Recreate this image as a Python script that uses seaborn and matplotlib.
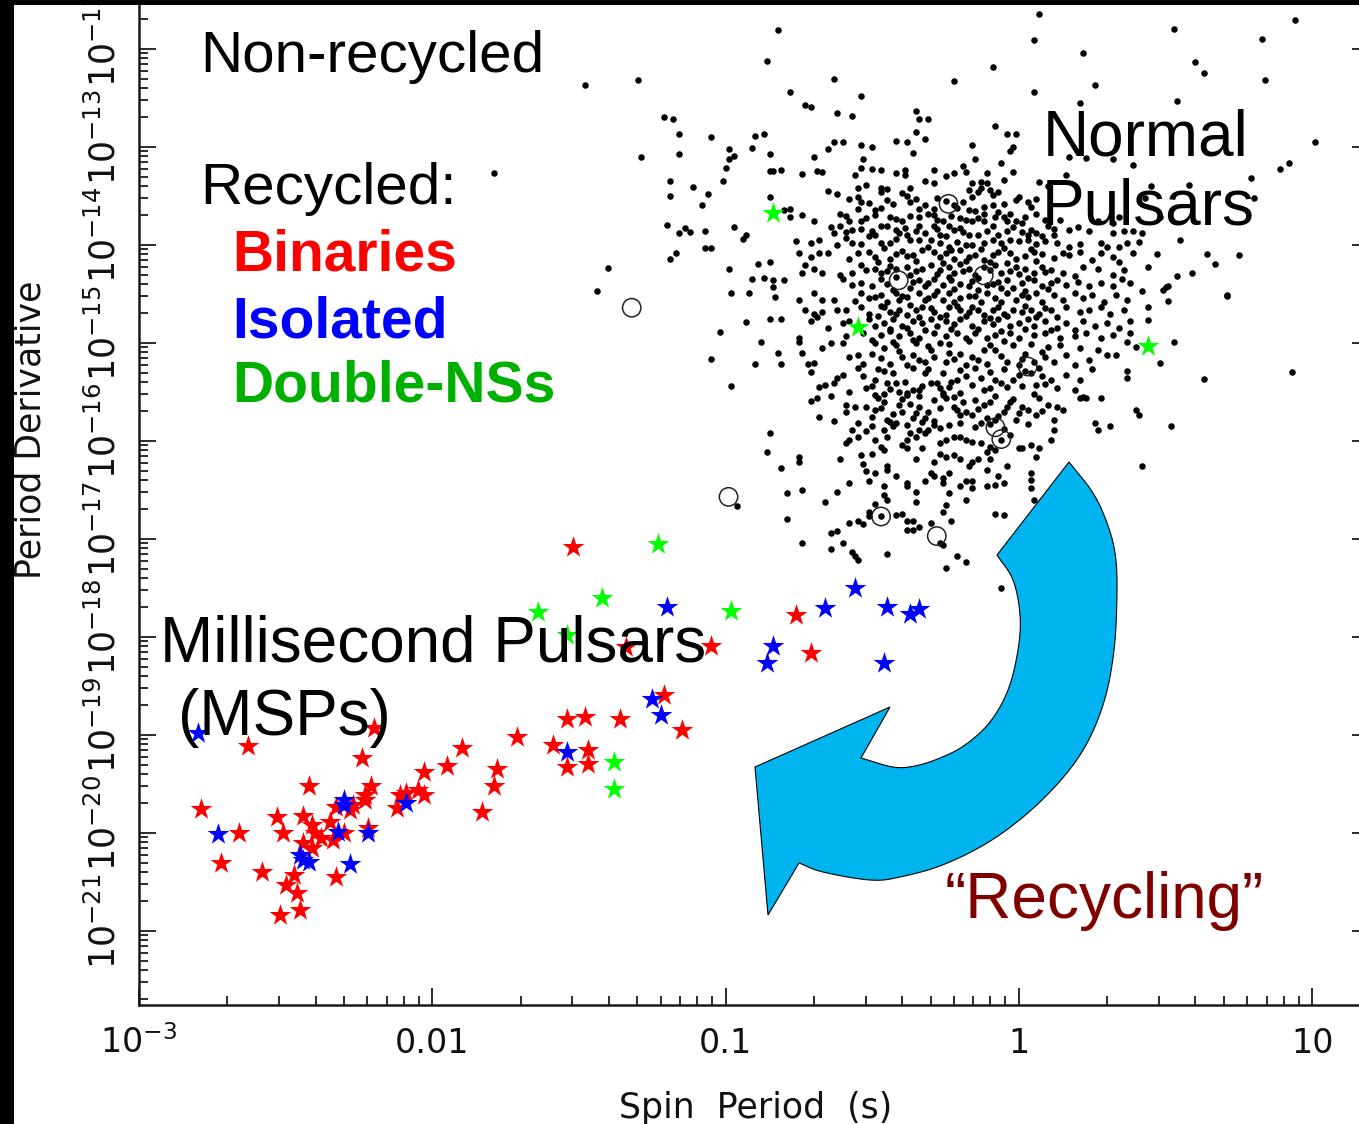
"""P-Pdot diagram: normal pulsars, recycled millisecond pulsars and the recycling arrow."""

import numpy as np
import matplotlib
matplotlib.use("Agg")
import matplotlib.pyplot as plt
import matplotlib.transforms as mtransforms
from matplotlib.patches import Polygon, Rectangle
from matplotlib.ticker import LogLocator, NullFormatter
import seaborn as sns

# values are (log10 spin period [s], log10 period derivative)
normal_psr = [
    (-0.08,-12.79),(-0.35,-12.85),(-0.32,-12.92),(-0.04,-12.87),(-0.01,-12.87),(-0.63,-12.95),(-0.60,-12.95),
    (-0.42,-12.94),(-0.38,-12.95),(-0.16,-12.98),(-0.02,-13.00),(-0.03,-13.04),(-0.54,-12.98),(-0.50,-13.00),
    (-0.65,-13.02),(-0.70,-13.10),(-0.53,-13.12),(-0.36,-13.06),(-0.15,-13.12),(-0.06,-13.16),(-0.19,-13.19),
    (0.17,-13.10),(0.32,-13.12),(0.23,-13.11),(-0.81,-13.23),(-0.69,-13.24),(-0.67,-13.26),(-0.54,-13.21),
    (-0.50,-13.22),(-0.47,-13.23),(-0.42,-13.27),(-0.39,-13.23),(-0.39,-13.29),(-0.29,-13.23),(-0.22,-13.27),
    (-0.25,-13.30),(-0.18,-13.25),(-0.11,-13.27),(-0.02,-13.26),(-0.74,-13.28),(-0.56,-13.29),(-0.52,-13.39),
    (0.16,-13.29),(0.39,-13.18),(-0.32,-13.35),(-0.29,-13.37),(-0.16,-13.37),(-0.13,-13.36),(-0.11,-13.37),
    (-0.05,-13.34),(0.07,-13.36),(0.10,-13.40),(-0.65,-13.45),(-0.62,-13.48),(-0.55,-13.42),(-0.47,-13.42),
    (-0.47,-13.46),(-0.45,-13.43),(-0.40,-13.47),(-0.37,-13.42),(-0.17,-13.44),(-0.13,-13.42),(-0.10,-13.44),
    (-0.09,-13.49),(-0.14,-13.46),(-0.07,-13.46),(0.00,-13.51),(0.03,-13.56),(-0.55,-13.51),(-0.54,-13.56),
    (-0.55,-13.63),(-0.51,-13.57),(-0.45,-13.54),(-0.38,-13.50),(-0.37,-13.56),(-0.28,-13.52),(-0.19,-13.56),
    (-0.16,-13.51),(-0.17,-13.64),(-0.15,-13.65),(-0.12,-13.61),(-0.09,-13.59),(-0.01,-13.54),(0.04,-13.61),
    (-0.78,-13.63),(-0.80,-13.64),(-0.49,-13.64),(-0.47,-13.62),(-0.34,-13.63),(-0.29,-13.63),(-0.32,-13.59),
    (-0.22,-13.59),(-0.78,-13.71),(-0.74,-13.69),(-0.70,-13.76),(-0.61,-13.68),(-0.58,-13.76),(-0.54,-13.76),
    (-0.49,-13.69),(-0.44,-13.71),(-0.42,-13.73),(-0.37,-13.70),(-0.34,-13.71),(-0.29,-13.69),(-0.28,-13.74),
    (-0.26,-13.76),(-0.20,-13.72),(-0.18,-13.74),(-0.16,-13.76),(-0.12,-13.68),(-0.12,-13.75),(-0.08,-13.71),
    (-0.07,-13.66),(-0.04,-13.76),(-0.03,-13.68),(-0.01,-13.76),(0.01,-13.78),(0.02,-13.71),(0.09,-13.74),
    (0.10,-13.81),(0.14,-13.74),(0.20,-13.82),(0.24,-13.86),(0.27,-13.76),(0.32,-13.78),(0.34,-13.71),
    (-0.64,-13.82),(-0.61,-13.81),(-0.63,-13.88),(-0.57,-13.85),(-0.54,-13.84),(-0.47,-13.81),(-0.45,-13.81),
    (-0.42,-13.85),(-0.39,-13.83),(-0.38,-13.90),(-0.34,-13.81),(-0.32,-13.88),(-0.29,-13.81),(-0.28,-13.84),
    (-0.27,-13.90),(-0.24,-13.81),(-0.25,-13.91),(-0.22,-13.85),(-0.20,-13.83),(-0.17,-13.90),(-0.14,-13.90),
    (-0.11,-13.86),(-0.09,-13.81),(-0.04,-13.86),(-0.02,-13.82),(0.01,-13.87),(0.04,-13.85),(0.06,-13.88),
    (0.08,-13.91),(0.12,-13.90),(0.17,-13.85),(0.32,-13.88),(0.36,-13.86),(0.39,-13.86),(-0.76,-13.96),
    (-0.71,-13.98),(-0.68,-13.95),(-0.62,-14.00),(-0.59,-13.93),(-0.57,-13.98),(-0.54,-13.99),(-0.51,-13.91),
    (-0.49,-13.90),(-0.47,-13.98),(-0.44,-13.98),(-0.42,-13.94),(-0.37,-13.95),(-0.34,-13.95),(-0.30,-13.95),
    (-0.27,-13.98),(-0.24,-14.02),(-0.21,-13.97),(-0.18,-14.00),(-0.16,-14.00),(-0.12,-13.98),(-0.09,-13.95),
    (-0.06,-13.98),(-0.03,-13.95),(0.00,-13.96),(0.03,-13.95),(0.06,-13.99),(0.09,-13.96),(0.13,-13.98),
    (0.17,-14.02),(0.21,-13.99),(0.28,-13.98),(0.30,-14.02),(0.34,-14.02),(0.37,-13.98),(0.41,-13.97),
    (-0.75,-14.08),(-0.71,-14.12),(-0.68,-14.08),(-0.65,-14.08),(-0.58,-14.14),(-0.55,-14.08),(-0.51,-14.07),
    (-0.49,-14.12),(-0.44,-14.14),(-0.42,-14.09),(-0.38,-14.11),(-0.36,-14.10),(-0.33,-14.05),(-0.29,-14.07),
    (-0.27,-14.12),(-0.25,-14.08),(-0.22,-14.14),(-0.20,-14.05),(-0.17,-14.12),(-0.15,-14.10),(-0.12,-14.15),
    (-0.09,-14.10),(-0.07,-14.07),(-0.03,-14.08),(-0.01,-14.14),(0.02,-14.11),(0.05,-14.07),(0.08,-14.09),
    (0.12,-14.13),(0.15,-14.08),(0.17,-14.10),(0.21,-14.07),(0.25,-14.15),(0.28,-14.08),(0.32,-14.12),
    (0.34,-14.17),(0.39,-14.08),(-0.73,-14.20),(-0.70,-14.24),(-0.74,-14.29),(-0.67,-14.29),(-0.61,-14.31),
    (-0.57,-14.29),(-0.54,-14.20),(-0.52,-14.25),(-0.49,-14.24),(-0.47,-14.29),(-0.44,-14.21),(-0.42,-14.24),
    (-0.38,-14.22),(-0.37,-14.31),(-0.33,-14.24),(-0.30,-14.20),(-0.27,-14.25),(-0.24,-14.22),(-0.22,-14.29),
    (-0.20,-14.19),(-0.17,-14.24),(-0.15,-14.31),(-0.12,-14.22),(-0.08,-14.20),(-0.06,-14.29),(-0.03,-14.27),
    (-0.01,-14.22),(0.02,-14.24),(0.05,-14.29),(0.08,-14.22),(0.11,-14.25),(0.15,-14.29),(0.19,-14.32),
    (0.22,-14.22),(0.27,-14.24),(0.32,-14.31),(0.36,-14.25),(-0.80,-14.36),(-0.60,-14.35),(-0.57,-14.41),
    (-0.54,-14.39),(-0.50,-14.42),(-0.47,-14.35),(-0.45,-14.40),(-0.36,-14.38),(-0.34,-14.36),(-0.32,-14.42),
    (-0.29,-14.35),(-0.26,-14.41),(-0.23,-14.36),(-0.20,-14.40),(-0.17,-14.42),(-0.16,-14.37),(-0.11,-14.41),
    (-0.07,-14.38),(-0.04,-14.36),(-0.02,-14.44),(0.01,-14.39),(0.05,-14.36),(0.08,-14.42),(0.11,-14.39),
    (0.13,-14.36),(0.16,-14.41),(0.20,-14.38),(0.24,-14.42),(0.28,-14.39),(0.32,-14.42),(0.35,-14.35),
    (0.38,-14.39),(-0.75,-14.56),(-0.70,-14.49),(-0.67,-14.56),(-0.63,-14.56),(-0.54,-14.49),(-0.56,-14.57),
    (-0.51,-14.54),(-0.47,-14.51),(-0.45,-14.58),(-0.42,-14.49),(-0.41,-14.56),(-0.38,-14.53),(-0.34,-14.49),
    (-0.32,-14.56),(-0.29,-14.51),(-0.26,-14.56),(-0.24,-14.49),(-0.20,-14.54),(-0.17,-14.52),(-0.13,-14.58),
    (-0.11,-14.49),(-0.08,-14.54),(-0.04,-14.49),(-0.01,-14.56),(0.03,-14.53),(0.06,-14.49),(0.08,-14.58),
    (0.12,-14.51),(0.15,-14.56),(0.19,-14.49),(0.22,-14.54),(0.25,-14.51),(0.29,-14.58),(0.33,-14.51),
    (0.37,-14.56),(-0.73,-14.66),(-0.70,-14.70),(-0.67,-14.68),(-0.62,-14.66),(-0.59,-14.66),(-0.54,-14.63),
    (-0.51,-14.70),(-0.46,-14.63),(-0.44,-14.68),(-0.41,-14.66),(-0.38,-14.71),(-0.35,-14.66),(-0.33,-14.63),
    (-0.29,-14.68),(-0.27,-14.73),(-0.24,-14.63),(-0.20,-14.66),(-0.17,-14.68),(-0.14,-14.66),(-0.12,-14.71),
    (-0.09,-14.66),(-0.05,-14.70),(-0.02,-14.66),(0.01,-14.68),(0.04,-14.66),(0.07,-14.70),(0.11,-14.66),
    (0.13,-14.73),(0.16,-14.63),(0.21,-14.68),(0.24,-14.66),(0.28,-14.63),(0.31,-14.70),(0.36,-14.66),
    (-0.81,-14.76),(-0.71,-14.78),(-0.69,-14.73),(-0.65,-14.85),(-0.60,-14.80),(-0.58,-14.78),(-0.51,-14.76),
    (-0.49,-14.83),(-0.46,-14.80),(-0.43,-14.76),(-0.40,-14.83),(-0.36,-14.78),(-0.33,-14.80),(-0.30,-14.75),
    (-0.28,-14.83),(-0.25,-14.78),(-0.22,-14.81),(-0.20,-14.76),(-0.16,-14.83),(-0.12,-14.78),(-0.09,-14.81),
    (-0.07,-14.76),(-0.03,-14.83),(0.00,-14.80),(0.03,-14.76),(0.05,-14.83),(0.09,-14.78),(0.13,-14.85),
    (0.16,-14.80),(0.19,-14.87),(0.22,-14.78),(0.26,-14.83),(0.30,-14.80),(0.34,-14.85),(0.38,-14.78),
    (-0.75,-14.95),(-0.59,-14.93),(-0.53,-14.90),(-0.47,-14.92),(-0.44,-14.88),(-0.41,-14.93),(-0.37,-14.90),
    (-0.34,-14.95),(-0.29,-14.90),(-0.25,-14.93),(-0.21,-14.90),(-0.18,-14.95),(-0.15,-14.90),(-0.11,-14.95),
    (-0.08,-14.92),(-0.03,-14.90),(0.00,-14.95),(0.05,-14.92),(0.09,-14.90),(0.14,-14.95),(0.19,-14.93),
    (0.23,-14.90),(0.28,-14.95),(0.32,-14.92),(0.38,-14.90),
    (-0.88,-14.99),(-0.75,-14.99),(-0.82,-15.10),(-0.90,-15.21),(-0.81,-15.21),(-0.74,-15.10),(-0.72,-15.21),
    (-0.70,-15.20),(-0.67,-15.05),(-0.64,-15.00),(-0.60,-15.00),(-0.58,-15.14),(-0.55,-15.12),(-0.53,-15.21),
    (-0.50,-15.11),(-0.49,-15.00),(-0.46,-15.05),(-0.44,-15.21),(-0.42,-15.02),(-0.40,-15.14),(-0.38,-15.22),
    (-0.35,-15.00),(-0.34,-15.17),(-0.32,-15.19),(-0.29,-15.14),(-0.27,-15.00),(-0.25,-15.19),(-0.22,-15.16),
    (-0.20,-15.11),(-0.18,-15.22),(-0.16,-15.14),(-0.12,-15.07),(-0.11,-15.21),(-0.08,-15.07),(-0.04,-15.19),
    (-0.02,-15.02),(0.00,-15.22),(0.02,-15.11),(0.05,-15.19),(0.08,-15.09),(0.12,-15.19),(0.14,-15.02),
    (0.16,-15.12),(0.19,-15.22),(0.21,-15.05),(0.24,-15.17),(0.27,-15.07),(0.30,-15.12),(0.33,-15.12),
    (0.37,-14.99),(0.40,-15.04),(-0.71,-15.30),(-0.68,-15.45),(-0.66,-15.43),(-0.63,-15.41),(-0.62,-15.36),
    (-0.60,-15.33),(-0.58,-15.50),(-0.55,-15.25),(-0.53,-15.34),(-0.52,-15.46),(-0.49,-15.38),(-0.49,-15.53),
    (-0.46,-15.29),(-0.45,-15.41),(-0.42,-15.41),(-0.41,-15.50),(-0.38,-15.51),(-0.36,-15.48),(-0.34,-15.48),
    (-0.32,-15.31),(-0.30,-15.41),(-0.28,-15.41),(-0.26,-15.51),(-0.24,-15.45),(-0.21,-15.38),(-0.20,-15.51),
    (-0.18,-15.34),(-0.13,-15.36),(-0.12,-15.48),(-0.08,-15.38),(-0.04,-15.45),(-0.02,-15.38),(0.02,-15.29),
    (0.04,-15.31),(0.06,-15.43),(0.08,-15.34),(0.11,-15.38),(0.13,-15.46),(0.16,-15.33),(0.19,-15.48),
    (0.21,-15.38),(0.22,-15.55),(0.25,-15.27),(0.28,-15.56),(0.37,-15.29),(0.37,-15.36),(-0.98,-15.44),
    (-0.71,-15.59),(-0.69,-15.56),(-0.68,-15.76),(-0.64,-15.54),(-0.63,-15.80),(-0.59,-15.63),(-0.59,-15.70),
    (-0.56,-15.65),(-0.55,-15.82),(-0.52,-15.65),(-0.50,-15.75),(-0.49,-15.68),(-0.48,-15.56),(-0.46,-15.60),
    (-0.45,-15.79),(-0.43,-15.72),(-0.42,-15.82),(-0.40,-15.70),(-0.38,-15.53),(-0.37,-15.62),(-0.36,-15.77),
    (-0.34,-15.65),(-0.32,-15.77),(-0.31,-15.70),(-0.29,-15.80),(-0.26,-15.53),(-0.25,-15.56),(-0.24,-15.84),
    (-0.22,-15.65),(-0.21,-15.68),(-0.19,-15.60),(-0.18,-15.70),(-0.16,-15.73),(-0.13,-15.82),(-0.12,-15.63),
    (-0.11,-15.77),(-0.10,-15.60),(-0.08,-15.79),(-0.05,-15.70),(-0.04,-15.65),(-0.03,-15.60),(-0.01,-15.79),
    (0.01,-15.65),(0.03,-15.68),(0.06,-15.73),(0.07,-15.56),(0.10,-15.63),(0.12,-15.79),(0.13,-15.65),
    (0.15,-15.68),(0.21,-15.56),(0.23,-15.56),(0.26,-15.82),(0.27,-15.89),(0.31,-15.85),(0.40,-15.68),
    (0.41,-15.73),(-0.85,-15.92),(-0.86,-16.11),(-0.59,-16.02),(-0.58,-15.99),(-0.57,-15.89),(-0.55,-15.96),
    (-0.52,-15.90),(-0.50,-15.85),(-0.49,-15.99),(-0.46,-15.89),(-0.45,-15.96),(-0.43,-15.85),(-0.40,-16.04),
    (-0.38,-15.99),(-0.37,-15.92),(-0.35,-15.96),(-0.34,-15.89),(-0.32,-15.92),(-0.31,-15.89),(-0.29,-15.84),
    (-0.27,-16.02),(-0.25,-15.99),(-0.22,-15.96),(-0.20,-15.96),(-0.18,-15.99),(-0.16,-16.01),(-0.13,-16.02),
    (-0.11,-16.11),(-0.10,-16.06),(-0.08,-16.09),(-0.06,-15.99),(-0.03,-15.94),(0.00,-16.07),(0.04,-16.04),
    (0.07,-16.07),(0.11,-15.99),(0.12,-15.89),(-0.54,-16.14),(-0.53,-16.23),(-0.50,-16.13),(-0.47,-16.06),
    (-0.46,-16.09),(-0.45,-16.26),(-0.42,-16.36),(-0.38,-16.07),(-0.35,-16.18),(-0.33,-16.07),(-0.29,-16.21),
    (-0.27,-16.13),(-0.25,-16.16),(-0.22,-16.14),(-0.20,-16.18),(-0.17,-16.26),(-0.16,-16.21),(-0.14,-16.18),
    (-0.11,-16.30),(-0.10,-16.18),(-0.04,-16.26),(0.01,-16.07),(-0.75,-16.16),(-0.75,-16.21),(-0.81,-16.28),
    (-0.61,-16.18),(-0.58,-16.43),(-0.52,-16.31),(-0.49,-16.33),(-0.45,-16.30),(-0.51,-16.41),(-0.46,-16.46),
    (-0.46,-16.55),(-0.45,-16.60),(-0.49,-16.64),(-0.38,-16.43),(-0.38,-16.46),(-0.35,-16.52),(-0.32,-16.41),
    (-0.30,-16.33),(-0.29,-16.36),(-0.26,-16.38),(-0.26,-16.43),(-0.24,-16.33),(-0.24,-16.53),(-0.20,-16.46),
    (-0.18,-16.41),(-0.18,-16.60),(-0.16,-16.41),(-0.16,-16.48),(-0.11,-16.46),(-0.08,-16.45),(-0.07,-16.36),
    (-0.05,-16.43),(0.04,-16.33),(0.04,-16.40),(0.04,-16.48),(0.06,-16.16),(0.05,-16.60),(-0.79,-16.53),
    (-0.74,-16.50),(-0.66,-16.62),(-0.62,-16.52),(-0.35,-16.62),(-0.25,-16.65),(-0.26,-16.72),(-0.51,-16.72),
    (-0.51,-16.77),(-0.47,-16.77),(-0.42,-16.75),(-0.40,-16.74),(-0.38,-16.82),(-0.36,-16.82),(-0.38,-16.91),
    (-0.36,-16.91),(-0.34,-16.88),(-0.30,-16.84),(-0.23,-16.82),(-0.08,-16.74),(-0.05,-16.76),(-0.58,-16.84),
    (-0.55,-16.82),(-0.53,-16.85),(-0.62,-16.92),(-0.64,-16.94),(-0.60,-17.04),(-0.74,-17.04),(-0.79,-16.80),
    (-0.64,-17.10),(-0.57,-17.13),(-0.56,-17.17),(-0.55,-17.21),(-0.45,-17.15),(-0.27,-17.04),(-0.26,-17.06),
    (-0.21,-17.17),(-0.18,-17.23),(-0.25,-17.30),(-0.96,-16.66),(-0.06,-17.50),
    (-0.82,-11.81),(-0.86,-12.12),(-1.48,-12.37),(-1.30,-12.32),(-0.63,-12.31),(-0.78,-12.44),(-0.54,-12.48),
    (-0.22,-12.33),(-0.73,-12.57),(-0.71,-12.59),(-0.62,-12.65),(-0.57,-12.68),(-0.35,-12.63),(-0.34,-12.71),
    (-0.31,-12.71),(-1.21,-12.69),(-1.18,-12.71),(-1.16,-12.87),(-1.05,-12.90),(-0.90,-12.89),(-0.87,-12.87),
    (-1.29,-13.10),(-1.16,-13.07),(-0.99,-13.02),(-0.97,-13.09),(-0.99,-13.12),(-0.91,-13.01),(-0.85,-13.07),
    (-1.00,-13.21),(-0.85,-13.24),(-0.84,-13.24),(-1.19,-13.35),(-1.01,-13.35),(-1.11,-13.41),(-1.19,-13.50),
    (-1.06,-13.48),(-1.08,-13.59),(-0.85,-13.51),(-1.20,-13.80),(-1.16,-13.88),(-1.14,-13.83),(-1.12,-13.87),
    (-1.07,-13.86),(-0.97,-13.82),(-0.94,-13.94),(-0.93,-13.90),(-1.19,-14.14),(-1.17,-14.08),(-1.07,-14.03),
    (-1.05,-14.03),(-1.40,-14.23),(-0.99,-14.24),(-0.89,-14.19),(-0.85,-14.17),(-1.44,-14.47),(-0.98,-14.49),
    (-0.92,-14.49),(-0.91,-14.35),(-0.87,-14.34),(-0.84,-14.36),(-0.84,-14.43),(-0.83,-14.53),(-1.05,-15.16),
    (-1.02,-14.89),(-0.93,-14.79),(-0.85,-14.76),(-1.79,-13.27),
    (0.07,-11.64),(0.53,-11.80),(0.94,-11.70),(0.05,-11.91),(0.22,-12.04),(0.83,-11.90),(-0.09,-12.18),
    (0.60,-12.13),(0.63,-12.24),(0.84,-12.32),(0.26,-12.37),(0.05,-12.44),(0.54,-12.53),(0.21,-12.55),
    (1.01,-12.95),(0.89,-13.22),(0.92,-13.16),(0.79,-13.32),(0.58,-13.39),(0.43,-13.52),(0.44,-14.22),
    (0.47,-14.09),(0.42,-13.88),(0.50,-14.43),(0.54,-14.32),(0.59,-14.29),(0.55,-13.95),(0.64,-14.09),
    (0.67,-14.19),(0.75,-14.10),(0.71,-14.51),(0.80,-13.52),(0.48,-13.71),(0.45,-13.40),
    (0.42,-14.47),(0.49,-14.46),(0.51,-14.42),(0.51,-14.57),(0.71,-14.52),(0.44,-14.63),(0.44,-14.77),
    (0.53,-14.99),(0.48,-15.20),(0.63,-15.37),(0.93,-15.30),(0.52,-15.85),(0.42,-16.25),
    # crowded core, where single dots merge
    (-0.46,-14.03),(-0.40,-14.06),(-0.31,-14.02),(-0.23,-14.05),(-0.13,-14.04),(-0.05,-14.03),(0.04,-14.04),
    (-0.48,-14.17),(-0.35,-14.16),(-0.26,-14.18),(-0.18,-14.16),(-0.10,-14.17),(-0.04,-14.18),(0.06,-14.16),
    (-0.45,-14.27),(-0.35,-14.27),(-0.28,-14.30),(-0.19,-14.27),(-0.10,-14.26),(0.00,-14.30),(0.09,-14.28),
    (-0.42,-14.33),(-0.31,-14.39),(-0.24,-14.33),(-0.14,-14.34),(-0.09,-14.40),(0.03,-14.34),
    (-0.43,-14.46),(-0.37,-14.44),(-0.28,-14.47),(-0.22,-14.45),(-0.14,-14.46),(-0.06,-14.44),(0.02,-14.47),
    (0.10,-14.45),(-0.49,-14.53),(-0.40,-14.52),(-0.31,-14.54),(-0.22,-14.58),(-0.15,-14.52),(-0.06,-14.58),
    (0.01,-14.51),(-0.47,-14.62),(-0.37,-14.61),(-0.30,-14.64),(-0.21,-14.62),(-0.16,-14.63),(-0.07,-14.63),
    (0.02,-14.62),(0.09,-14.64),(-0.48,-14.72),(-0.42,-14.70),(-0.34,-14.73),(-0.25,-14.71),(-0.18,-14.72),
    (-0.10,-14.74),(-0.04,-14.72),(0.06,-14.73),(-0.44,-14.86),(-0.38,-14.85),(-0.32,-14.87),(-0.23,-14.86),
    (-0.14,-14.86),(-0.06,-14.88),(0.02,-14.86),(0.11,-14.87),(-0.50,-14.97),(-0.43,-14.99),(-0.36,-14.97),
    (-0.31,-15.03),(-0.24,-15.01),(-0.17,-14.98),(-0.10,-15.02),(-0.05,-14.98),(0.04,-15.01),(0.10,-15.04),
    (-0.47,-15.15),(-0.41,-15.08),(-0.36,-15.12),(-0.30,-15.07),(-0.24,-15.10),(-0.14,-15.17),(-0.06,-15.13),
    (0.01,-15.16),(0.09,-15.14),(-0.48,-15.27),(-0.43,-15.31),(-0.36,-15.25),(-0.31,-15.27),(-0.26,-15.31),
    (-0.20,-15.28),(-0.15,-15.26),(-0.10,-15.30),(-0.05,-15.27),(0.00,-15.33),(0.07,-15.26),(-0.50,-15.44),
    (-0.44,-15.47),(-0.39,-15.40),(-0.33,-15.44),(-0.27,-15.46),(-0.23,-15.40),(-0.16,-15.43),(-0.10,-15.46),
    (-0.06,-15.41),(0.01,-15.44),(0.09,-15.42),(-0.46,-15.52),(-0.40,-15.57),(-0.34,-15.54),(-0.29,-15.58),
    (-0.22,-15.55),(-0.15,-15.58),(-0.08,-15.54),(-0.02,-15.57),(0.05,-15.52),(-0.47,-15.66),(-0.41,-15.63),
    (-0.35,-15.71),(-0.27,-15.66),(-0.20,-15.73),(-0.14,-15.67),(-0.07,-15.74),(0.00,-15.71),(0.08,-15.69),
    (-0.44,-15.81),(-0.38,-15.84),(-0.33,-15.81),(-0.27,-15.87),(-0.20,-15.82),(-0.15,-15.86),(-0.10,-15.83),
    (-0.05,-15.88),(0.03,-15.83),(-0.58,-13.53),(-0.43,-13.58),(-0.35,-13.53),(-0.25,-13.55),(-0.21,-13.62),
    (-0.05,-13.58),(0.06,-13.53),(-0.59,-13.70),(-0.52,-13.72),(-0.40,-13.75),(-0.31,-13.68),(-0.23,-13.70),
    (-0.14,-13.72),(-0.05,-13.71),(0.06,-13.68),(-0.59,-13.87),(-0.50,-13.86),(-0.41,-13.88),(-0.35,-13.86),
    (-0.19,-13.87),(-0.07,-13.90),(0.03,-13.90),(0.12,-13.84),
]

circled_psr = [(-1.32,-14.64),(-0.99,-16.57),(-0.47,-16.77),(-0.28,-16.97),(-0.24,-13.58),(-0.41,-14.36),
               (-0.12,-14.31),(0.03,-15.24),(-0.08,-15.86),(-0.06,-15.98)]

binary_msp = [
    (-1.52,-17.08),(-1.34,-18.10),(-1.05,-18.09),(-0.76,-17.78),(-0.71,-18.16),(-1.21,-18.59),(-1.54,-18.84),
    (-1.48,-18.82),(-1.36,-18.84),(-1.15,-18.95),(-1.71,-19.02),(-1.90,-19.13),(-1.59,-19.10),(-1.47,-19.15),
    (-1.54,-19.33),(-1.47,-19.30),(-1.95,-19.32),(-1.78,-19.35),(-1.79,-19.52),(-1.83,-19.79),(-2.63,-19.11),
    (-2.20,-18.93),(-2.24,-19.23),(-2.42,-19.52),(-2.21,-19.52),(-2.23,-19.61),(-2.03,-19.38),(-2.11,-19.61),
    (-2.09,-19.59),(-2.05,-19.56),(-2.03,-19.61),(-2.12,-19.74),(-2.27,-19.71),(-2.28,-19.77),(-2.33,-19.73),
    (-2.79,-19.76),(-2.53,-19.84),(-2.44,-19.83),(-2.66,-20.00),(-2.72,-20.31),(-2.58,-20.40),(-2.51,-20.00),
    (-2.41,-19.92),(-2.40,-20.00),(-2.44,-20.10),(-2.38,-20.05),(-2.41,-20.15),(-2.47,-20.43),(-2.50,-20.53),
    (-2.46,-20.61),(-2.52,-20.84),(-2.45,-20.79),(-2.33,-20.45),(-2.35,-19.89),(-2.34,-20.07),(-2.30,-20.00),
    (-2.22,-19.95),(-2.23,-19.66),
]

isolated_msp = [
    (-1.20,-17.69),(-0.84,-18.09),(-0.86,-18.27),(-0.66,-17.70),(-0.56,-17.50),(-0.45,-17.69),(-0.37,-17.77),
    (-0.34,-17.71),(-0.46,-18.27),(-1.25,-18.63),(-1.22,-18.80),(-1.54,-19.17),(-2.80,-18.98),(-2.09,-19.69),
    (-2.30,-19.66),(-2.30,-19.71),(-2.73,-20.01),(-2.45,-20.22),(-2.42,-20.30),(-2.44,-20.28),(-2.28,-20.32),
    (-2.32,-19.99),(-2.22,-20.00),
]

double_ns = [(-1.23,-17.05),(-1.42,-17.60),(-1.64,-17.74),(-0.98,-17.73),(-1.54,-17.98),(-1.38,-19.28),
             (-1.38,-19.55),(-0.84,-13.67),(-0.55,-14.84),(0.44,-15.03)]

x_ticks = [1e-3, 0.01, 0.1, 1, 10]
x_tick_labels = [r"$10^{-3}$", "0.01", "0.1", "1", "10"]
y_exponents = list(range(-21, -11))
y_ticks = [10.0 ** e for e in y_exponents]
y_tick_labels = [rf"$10^{{{e}}}$" for e in y_exponents]

W, H = 1359, 1124


def unlog(pairs):
    arr = np.array(pairs, dtype=float)
    return 10 ** arr[:, 0], 10 ** arr[:, 1]


def smooth(points, n=10):
    """Catmull-Rom curve through outline points (pixel space)."""
    p = np.asarray(points, dtype=float)
    ext = np.vstack([2 * p[0] - p[1], p, 2 * p[-1] - p[-2]])
    t = np.linspace(0, 1, n, endpoint=False)[:, None]
    out = []
    for i in range(1, len(ext) - 2):
        p0, p1, p2, p3 = ext[i - 1], ext[i], ext[i + 1], ext[i + 2]
        out.append(0.5 * (2 * p1 + (-p0 + p2) * t + (2 * p0 - 5 * p1 + 4 * p2 - p3) * t ** 2
                          + (-p0 + 3 * p1 - 3 * p2 + p3) * t ** 3))
    out.append(p[-1:])
    return np.vstack(out)


sns.set_style("ticks")
plt.rcParams["font.family"] = ["DejaVu Sans"]

fig = plt.figure(figsize=(W / 100, H / 100), dpi=100)
fig.patch.set_facecolor("white")
ax = fig.add_axes([139 / W, 1 - 1005 / H, 1230 / W, 1030 / H])
ax.set_xscale("log")
ax.set_yscale("log")

px, py = unlog(normal_psr)
sns.scatterplot(x=px, y=py, ax=ax, color="black", s=22, linewidth=0, zorder=2)

cx, cy = unlog(circled_psr)
sns.scatterplot(x=cx, y=cy, ax=ax, marker="o", s=175, facecolor="none",
                edgecolor="#222222", linewidth=1.1, zorder=3)

for pairs, col in [(binary_msp, "#FF0000"), (isolated_msp, "#0000FF"), (double_ns, "#00FF00")]:
    sx, sy = unlog(pairs)
    sns.scatterplot(x=sx, y=sy, ax=ax, marker="*", s=270, color=col, linewidth=0, zorder=4)

ax.set_xlim(1e-3, 10 ** (-3 + 1230 / 293.3))
ax.set_ylim(10 ** (-12 - 956 / 98), 10 ** (-12 + 74 / 98))

ax.set_xticks(x_ticks, x_tick_labels)
ax.set_yticks(y_ticks, y_tick_labels)
for axis in (ax.xaxis, ax.yaxis):
    axis.set_minor_locator(LogLocator(base=10, subs=np.arange(2, 10), numticks=60))
    axis.set_minor_formatter(NullFormatter())

ax.tick_params(which="both", direction="in", top=True, right=True, color="#1a1a1a")
ax.tick_params(which="major", length=12.5, width=1.3)
ax.tick_params(which="minor", length=6.8, width=1.3)
ax.tick_params(axis="x", labelsize=24, pad=34.5, labelcolor="#111111")
ax.tick_params(axis="y", labelsize=25, pad=12, labelrotation=90, labelcolor="#111111")
for sp in ax.spines.values():
    sp.set_linewidth(1.8)
    sp.set_color("#1a1a1a")

for lab in ax.get_xticklabels():
    lab.set_va("baseline")
shift = mtransforms.ScaledTranslation(0, 7 / 72, fig.dpi_scale_trans)
for lab in ax.get_yticklabels():
    lab.set_va("center")
    lab.set_transform(lab.get_transform() + shift)

ax.set_xlabel("Spin  Period  (s)", fontsize=25, color="#111111")
ax.xaxis.set_label_coords((756 - 139) / 1230, (1005 - 1118) / 1030)
ax.xaxis.label.set_va("baseline")
ax.set_ylabel("Period Derivative", fontsize=25, color="#111111")
ax.yaxis.set_label_coords((31 - 139) / 1230, (1005 - 430) / 1030)
ax.yaxis.label.set_va("center")


def note(x, y, s, size, color="black", weight="normal"):
    fig.text(x / W, 1 - y / H, s, fontsize=size, color=color, fontweight=weight,
             family=["Liberation Sans", "DejaVu Sans"], va="baseline", ha="left")


note(200, 72, "Non-recycled", 42)
note(200, 204, "Recycled:", 42)
note(232, 270, "Binaries", 41, "#FF0000", "bold")
note(232, 337, "Isolated", 41, "#0000FF", "bold")
note(232, 402, "Double-NSs", 41, "#00B000", "bold")
note(1043, 155, "Normal", 46)
note(1042, 225, "Pulsars", 46)
note(160, 662, "Millisecond Pulsars", 46)
note(178, 735, "(MSPs)", 46)
note(945, 918, "\u201cRecycling\u201d", 46, "#800000")

# recycling arrow, outlined in pixel space of the figure
outer = [(1069, 462), (1093, 493), (1107, 523), (1115, 553), (1117, 590), (1114, 650), (1103, 705),
         (1080, 755), (1042, 800), (995, 838), (945, 864), (900, 877), (870, 880), (823, 872), (799, 863)]
inner = [(861, 758), (893, 767), (915, 766), (940, 758), (965, 745), (990, 722), (1008, 690),
         (1018, 650), (1020, 615), (1013, 580), (997, 555)]
head = np.array([(768, 915), (755, 767), (890, 707)], dtype=float)
outline = np.vstack([smooth(outer), head, smooth(inner)])
outline[:, 0] /= W
outline[:, 1] = 1 - outline[:, 1] / H
fig.add_artist(Polygon(outline, closed=True, facecolor="#00B4F0", edgecolor="black",
                       linewidth=0.8, transform=fig.transFigure, zorder=5))

# black frame strips on the left and top edges
fig.add_artist(Rectangle((0, 0), 14 / W, 1, transform=fig.transFigure,
                         facecolor="black", edgecolor="none", zorder=10))
fig.add_artist(Rectangle((0, 1 - 5 / H), 1, 5 / H, transform=fig.transFigure,
                         facecolor="black", edgecolor="none", zorder=10))

fig.savefig("out.png", dpi=100)
